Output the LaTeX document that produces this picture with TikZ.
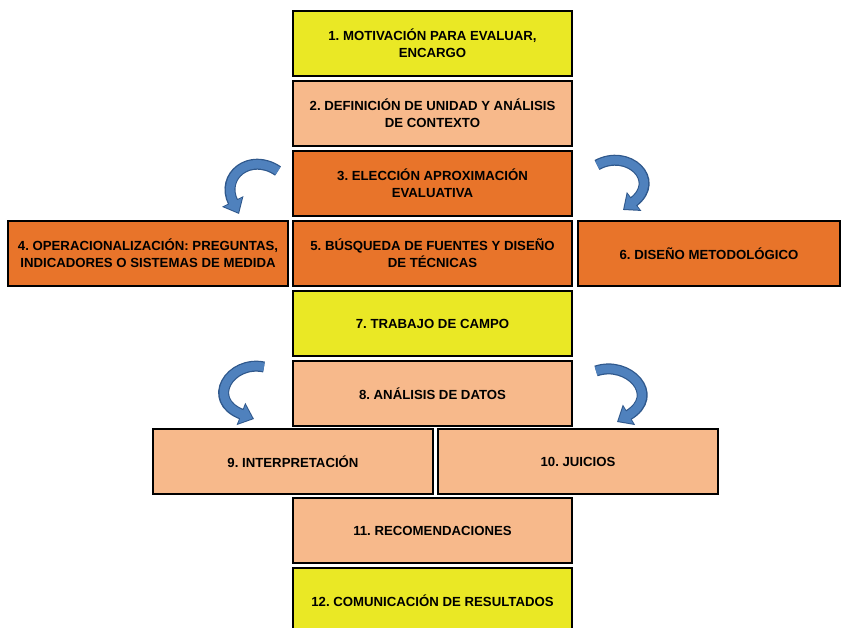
\documentclass[tikz,border=0pt]{standalone}
\usepackage{fontspec}
\setmainfont{Liberation Sans}
\usetikzlibrary{arrows.meta}
\frenchspacing
\definecolor{cyel}{RGB}{234,232,37}
\definecolor{cpeach}{RGB}{247,185,139}
\definecolor{corange}{RGB}{232,116,42}
\definecolor{arrdark}{RGB}{47,88,140}
\definecolor{arrblue}{RGB}{79,129,189}
\tikzset{
  boxnode/.style={draw=black, line width=1.6pt, minimum width=279pt, minimum height=65pt,
    inner sep=0pt, align=center, font=\fontsize{13.2}{17}\selectfont\bfseries},
  curvedarrow/.style={line width=11pt, draw=arrdark, -{Triangle[width=23pt,length=14pt]}},
  curvedarrowin/.style={line width=8.5pt, draw=arrblue, -{Triangle[width=19pt,length=11.5pt]}, shorten >=1.6pt}
}
\begin{document}
\begin{tikzpicture}[x=1pt,y=-1pt]
\useasboundingbox (0,0) rectangle (842,628);
\begin{scope}
\clip (0,0) rectangle (842,628);
\node[boxnode, fill=cyel] (b1) at (432.5,43.5) {1. MOTIVACIÓN PARA EVALUAR,\\ENCARGO};
\node[boxnode, fill=cpeach] (b2) at (432.5,113.5) {2. DEFINICIÓN DE UNIDAD Y ANÁLISIS\\DE CONTEXTO};
\node[boxnode, fill=corange] (b3) at (432.5,183.5) {3. ELECCIÓN APROXIMACIÓN\\EVALUATIVA};
\node[boxnode, fill=corange, minimum width=280pt] (b4) at (148,253.5) {4. OPERACIONALIZACIÓN: PREGUNTAS,\\INDICADORES O SISTEMAS DE MEDIDA};
\node[boxnode, fill=corange] (b5) at (432.5,253.5) {5. BÚSQUEDA DE FUENTES Y DISEÑO\\DE TÉCNICAS};
\node[boxnode, fill=corange, minimum width=262pt] (b6) at (709,253.5) {6. DISEÑO METODOLÓGICO};
\node[boxnode, fill=cyel] (b7) at (432.5,323.5) {7. TRABAJO DE CAMPO};
\node[boxnode, fill=cpeach] (b8) at (432.5,393.5) {8. ANÁLISIS DE DATOS};
\node[boxnode, fill=cpeach, minimum width=280pt] (b9) at (293,461.5) {9. INTERPRETACIÓN};
\node[boxnode, fill=cpeach, minimum width=280pt] (b10) at (578,461.5) {10. JUICIOS};
\node[boxnode, fill=cpeach] (b11) at (432.5,530.5) {11. RECOMENDACIONES};
\node[boxnode, fill=cyel] (b12) at (432.5,600.5) {12. COMUNICACIÓN DE RESULTADOS};
\end{scope}
% curved arrows
\foreach \st in {curvedarrow,curvedarrowin}{
  \draw[\st] (278,171) .. controls (250,152) and (220,176) .. (239,214);
  \draw[\st] (597,165) .. controls (628,148) and (662,180) .. (623,210);
  \draw[\st] (264,367) .. controls (230,360) and (205,400) .. (254,419);
  \draw[\st] (596,371) .. controls (628,360) and (662,395) .. (617,422);
}
\end{tikzpicture}
\end{document}
